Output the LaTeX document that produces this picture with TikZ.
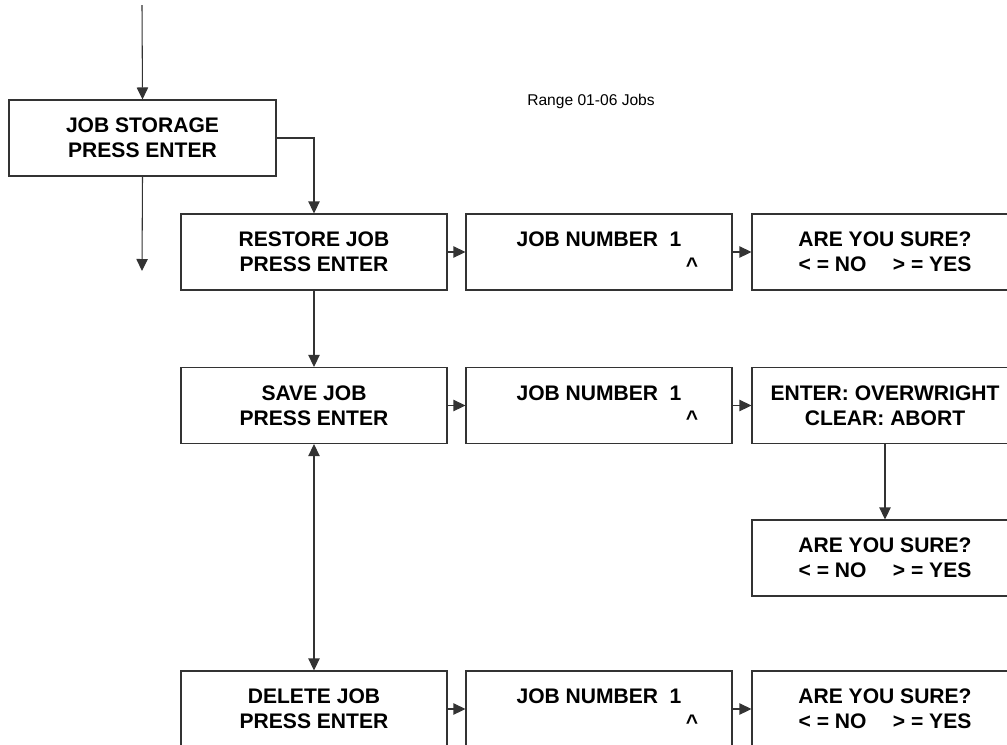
\documentclass[tikz,border=0pt]{standalone}
\usepackage{fontspec}
\setmainfont{Liberation Sans}
\usetikzlibrary{arrows.meta}
\begin{document}
\begin{tikzpicture}[x=0.75pt,y=-0.75pt,
  box/.style={draw=black!80,line width=0.8pt,minimum width=199.5pt,minimum height=57pt,
    inner sep=0pt,align=center,font=\fontsize{15.8}{19}\selectfont\bfseries},
  conn/.style={draw=black!80,line width=0.8pt,-{Triangle[length=9pt,width=8.5pt]}},
  dconn/.style={draw=black!80,line width=0.8pt,{Triangle[length=9pt,width=8.5pt]}-{Triangle[length=9pt,width=8.5pt]}},
  lbl/.style={font=\fontsize{11.7}{14}\selectfont}
]
\useasboundingbox (0,0) rectangle (1007,744);

\node[box,minimum width=200.25pt] (js) at (142.5,138) {JOB STORAGE\\PRESS ENTER};
\node[box] (restore) at (314,252) {RESTORE JOB\\PRESS ENTER};
\node[box] (jn1) at (599,252) {JOB NUMBER\hspace{0.55em}1\\\hspace*{139.5pt}\textasciicircum};
\node[box] (ays1) at (885,252) {ARE YOU SURE?\\\textless{} = NO\hspace{1.25em}\textgreater{} = YES};

\node[box] (save) at (314,405.5) {SAVE JOB\\PRESS ENTER};
\node[box] (jn2) at (599,405.5) {JOB NUMBER\hspace{0.55em}1\\\hspace*{139.5pt}\textasciicircum};
\node[box] (enter) at (885,405.5) {ENTER: OVERWRIGHT\\CLEAR: ABORT};
\node[box] (ays2) at (885,558) {ARE YOU SURE?\\\textless{} = NO\hspace{1.25em}\textgreater{} = YES};

\node[box] (del) at (314,709) {DELETE JOB\\PRESS ENTER};
\node[box] (jn3) at (599,709) {JOB NUMBER\hspace{0.55em}1\\\hspace*{139.5pt}\textasciicircum};
\node[box] (ays3) at (885,709) {ARE YOU SURE?\\\textless{} = NO\hspace{1.25em}\textgreater{} = YES};

\node[lbl,anchor=base] (range) at (591,105) {Range 01-06 Jobs};

\coordinate (topin) at (142,5);
\coordinate (jsout) at (142,271);

\draw[conn] (topin) -- (js.north);
\draw[conn] (js.south) -- (jsout);
\draw[conn] (js.east) -| (restore.north);
\draw[conn] (restore.south) -- (save.north);
\draw[dconn] (save.south) -- (del.north);
\draw[conn] (restore.east) -- (jn1.west);
\draw[conn] (jn1.east) -- (ays1.west);
\draw[conn] (save.east) -- (jn2.west);
\draw[conn] (jn2.east) -- (enter.west);
\draw[conn] (enter.south) -- (ays2.north);
\draw[conn] (del.east) -- (jn3.west);
\draw[conn] (jn3.east) -- (ays3.west);
\end{tikzpicture}
\end{document}
